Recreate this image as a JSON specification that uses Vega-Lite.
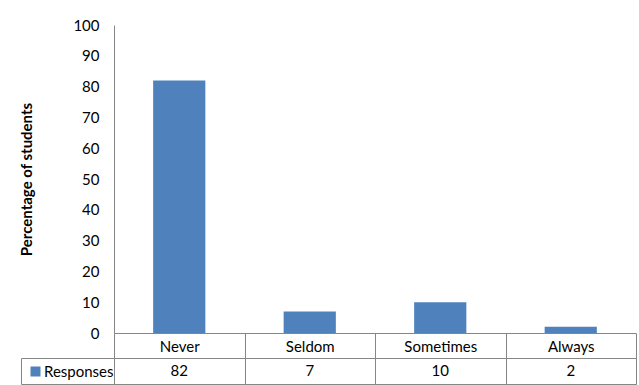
{
  "$schema": "https://vega.github.io/schema/vega-lite/v6.json",
  "background": "white",
  "padding": {"left": 19, "top": 18, "right": 0, "bottom": 0},
  "autosize": {"type": "pad"},
  "bounds": "flush",
  "spacing": 25,
  "datasets": {
    "resp": [
      {"category": "Never", "value": 82, "series": "Responses"},
      {"category": "Seldom", "value": 7, "series": "Responses"},
      {"category": "Sometimes", "value": 10, "series": "Responses"},
      {"category": "Always", "value": 2, "series": "Responses"}
    ]
  },
  "resolve": {"legend": {"color": "independent"}},
  "vconcat": [
    {
      "data": {"name": "resp"},
      "width": 522,
      "height": 308,
      "view": {"stroke": null},
      "mark": {"type": "bar", "width": {"band": 0.4}},
      "encoding": {
        "x": {
          "field": "category", "type": "nominal",
          "sort": ["Never", "Seldom", "Sometimes", "Always"],
          "scale": {"paddingInner": 0, "paddingOuter": 0},
          "axis": {
            "title": null, "labelAngle": 0, "domain": true, "domainColor": "#868686",
            "ticks": true, "tickBand": "extent", "tickSize": 25, "tickColor": "#868686",
            "labelPadding": -19, "labelFontSize": 15, "labelColor": "#000", "grid": false
          }
        },
        "y": {
          "field": "value", "type": "quantitative",
          "scale": {"domain": [0, 100], "nice": false},
          "axis": {
            "values": [0, 10, 20, 30, 40, 50, 60, 70, 80, 90, 100],
            "grid": false, "ticks": false, "domainColor": "#868686",
            "labelPadding": 15, "labelFontSize": 15, "labelColor": "#000",
            "title": "Percentage of students", "titleFontSize": 15, "titleFontWeight": "bold",
            "titleColor": "#000", "titlePadding": 38
          }
        },
        "color": {
          "field": "series", "type": "nominal",
          "scale": {"range": ["#4f81bd"]},
          "legend": {
            "orient": "none", "legendX": -86, "legendY": 339, "title": null,
            "symbolType": "square", "symbolSize": 100, "symbolStrokeWidth": 0,
            "labelFontSize": 15, "labelColor": "#000", "padding": 0, "labelOffset": 1
          }
        }
      }
    },
    {
      "data": {"name": "resp"},
      "width": 522,
      "height": 26,
      "view": {"stroke": "#868686"},
      "mark": {"type": "text", "fontSize": 15, "color": "#000"},
      "encoding": {
        "x": {
          "field": "category", "type": "nominal",
          "sort": ["Never", "Seldom", "Sometimes", "Always"],
          "scale": {"type": "band", "paddingInner": 0, "paddingOuter": 0},
          "axis": {
            "title": null, "labels": false, "ticks": false, "domain": false,
            "grid": true, "tickBand": "extent", "gridColor": "#868686", "gridOpacity": 1
          }
        },
        "y": {
          "field": "series", "type": "nominal",
          "scale": {"type": "band", "paddingInner": 0, "paddingOuter": 0},
          "axis": {
            "title": null, "labels": false, "orient": "left", "offset": 93,
            "ticks": true, "tickSize": -93, "tickBand": "extent", "tickColor": "#868686",
            "domain": true, "domainColor": "#868686", "grid": false
          }
        },
        "text": {"field": "value", "type": "quantitative"}
      }
    }
  ],
  "config": {
    "font": "Lato",
    "axis": {"labelFont": "Lato", "titleFont": "Lato"},
    "legend": {"labelFont": "Lato"},
    "text": {"font": "Lato"}
  }
}
